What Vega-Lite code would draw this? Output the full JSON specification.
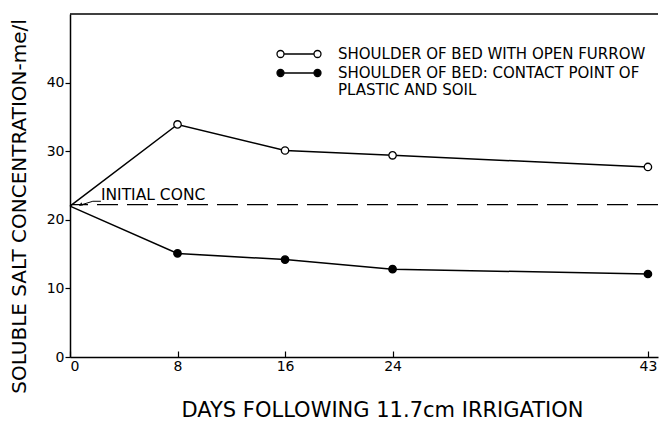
{
  "$schema": "https://vega.github.io/schema/vega-lite/v6.json",
  "width": 588,
  "height": 343,
  "autosize": "none",
  "padding": {"left": 70, "top": 14, "right": 2, "bottom": 64},
  "background": "white",
  "config": {
    "view": {"stroke": null},
    "font": "DejaVu Sans",
    "axis": {
      "labelColor": "black",
      "titleColor": "black",
      "domainColor": "black",
      "tickColor": "black",
      "domainWidth": 1.5,
      "tickWidth": 1.2,
      "grid": false,
      "labelFont": "DejaVu Sans",
      "titleFont": "DejaVu Sans",
      "labelFontSize": 14,
      "titleFontWeight": "normal"
    }
  },
  "data": {
    "values": [
      {"day": 0, "conc": 22, "series": "SHOULDER OF BED WITH OPEN FURROW"},
      {"day": 8, "conc": 33.9, "series": "SHOULDER OF BED WITH OPEN FURROW"},
      {"day": 16, "conc": 30.1, "series": "SHOULDER OF BED WITH OPEN FURROW"},
      {"day": 24, "conc": 29.4, "series": "SHOULDER OF BED WITH OPEN FURROW"},
      {"day": 43, "conc": 27.7, "series": "SHOULDER OF BED WITH OPEN FURROW"},
      {"day": 0, "conc": 22, "series": "SHOULDER OF BED: CONTACT POINT OF PLASTIC AND SOIL"},
      {"day": 8, "conc": 15.1, "series": "SHOULDER OF BED: CONTACT POINT OF PLASTIC AND SOIL"},
      {"day": 16, "conc": 14.2, "series": "SHOULDER OF BED: CONTACT POINT OF PLASTIC AND SOIL"},
      {"day": 24, "conc": 12.8, "series": "SHOULDER OF BED: CONTACT POINT OF PLASTIC AND SOIL"},
      {"day": 43, "conc": 12.1, "series": "SHOULDER OF BED: CONTACT POINT OF PLASTIC AND SOIL"}
    ]
  },
  "layer": [
    {
      "data": {"values": [{}]},
      "mark": {"type": "rule", "color": "black", "strokeWidth": 1.5},
      "encoding": {"y": {"datum": 50, "type": "quantitative"}}
    },
    {
      "data": {"values": [{}]},
      "mark": {"type": "rule", "color": "black", "strokeWidth": 1.3, "strokeDash": [21, 9]},
      "encoding": {"y": {"datum": 22.2, "type": "quantitative"}}
    },
    {
      "data": {"values": [{}]},
      "mark": {"type": "rule", "color": "black", "strokeWidth": 1},
      "encoding": {
        "x": {"datum": 0.7, "type": "quantitative"},
        "y": {"datum": 22.1, "type": "quantitative"},
        "x2": {"datum": 1.7},
        "y2": {"datum": 22.7}
      }
    },
    {
      "data": {"values": [{}]},
      "mark": {"type": "rule", "color": "black", "strokeWidth": 1},
      "encoding": {
        "x": {"datum": 1.7, "type": "quantitative"},
        "y": {"datum": 22.7, "type": "quantitative"},
        "x2": {"datum": 2.3},
        "y2": {"datum": 22.7}
      }
    },
    {
      "data": {"values": [{}]},
      "mark": {"type": "point", "shape": "triangle-left", "filled": true, "color": "black", "size": 14, "angle": -30, "opacity": 1},
      "encoding": {
        "x": {"datum": 0.8, "type": "quantitative"},
        "y": {"datum": 22.2, "type": "quantitative"}
      }
    },
    {
      "data": {"values": [{}]},
      "mark": {"type": "text", "text": "INITIAL CONC", "align": "left", "baseline": "alphabetic", "fontSize": 15.5, "font": "DejaVu Sans", "color": "black"},
      "encoding": {
        "x": {"datum": 2.3, "type": "quantitative"},
        "y": {"datum": 22.9, "type": "quantitative"}
      }
    },
    {
      "mark": {"type": "line", "color": "black", "strokeWidth": 1.5},
      "encoding": {
        "x": {"field": "day", "type": "quantitative"},
        "y": {"field": "conc", "type": "quantitative"},
        "detail": {"field": "series"}
      }
    },
    {
      "transform": [{"filter": "datum.day > 0"}],
      "mark": {"type": "point", "shape": "circle", "size": 55, "strokeWidth": 1.3, "stroke": "black", "opacity": 1},
      "encoding": {
        "x": {
          "field": "day",
          "type": "quantitative",
          "scale": {"domain": [0, 43.75], "nice": false, "zero": false},
          "axis": {
            "values": [0, 8, 16, 24, 43],
            "tickSize": -6,
            "labelPadding": 8,
            "title": "DAYS FOLLOWING 11.7cm IRRIGATION",
            "titleFontSize": 21,
            "titleX": 312,
            "titleY": 53,
            "titleAlign": "center",
            "titleBaseline": "middle"
          }
        },
        "y": {
          "field": "conc",
          "type": "quantitative",
          "scale": {"domain": [0, 50], "nice": false},
          "axis": {
            "values": [0, 10, 20, 30, 40],
            "tickSize": 5,
            "labelPadding": 1,
            "title": "SOLUBLE SALT CONCENTRATION-me/l",
            "titleFontSize": 20,
            "titleX": -51,
            "titleY": 192,
            "titleAlign": "center",
            "titleBaseline": "middle"
          }
        },
        "fill": {
          "field": "series",
          "type": "nominal",
          "scale": {
            "domain": ["SHOULDER OF BED WITH OPEN FURROW", "SHOULDER OF BED: CONTACT POINT OF PLASTIC AND SOIL"],
            "range": ["white", "black"]
          },
          "legend": {
            "title": null,
            "orient": "none",
            "legendX": 218,
            "legendY": 29,
            "padding": 0,
            "symbolType": "M-1.5,0L1.5,0M-2.2,0a0.35,0.35 0 1,0 0.7,0a0.35,0.35 0 1,0 -0.7,0M1.5,0a0.35,0.35 0 1,0 0.7,0a0.35,0.35 0 1,0 -0.7,0",
            "symbolSize": 400,
            "symbolStrokeColor": "black",
            "symbolStrokeWidth": 1.3,
            "symbolOpacity": 1,
            "labelFont": "DejaVu Sans",
            "labelFontSize": 15,
            "labelColor": "black",
            "labelLimit": 400,
            "labelOffset": 28,
            "rowPadding": -1,
            "labelExpr": "datum.label == 'SHOULDER OF BED WITH OPEN FURROW' ? datum.label : ['SHOULDER OF BED: CONTACT POINT OF', 'PLASTIC AND SOIL']"
          }
        }
      }
    }
  ]
}
